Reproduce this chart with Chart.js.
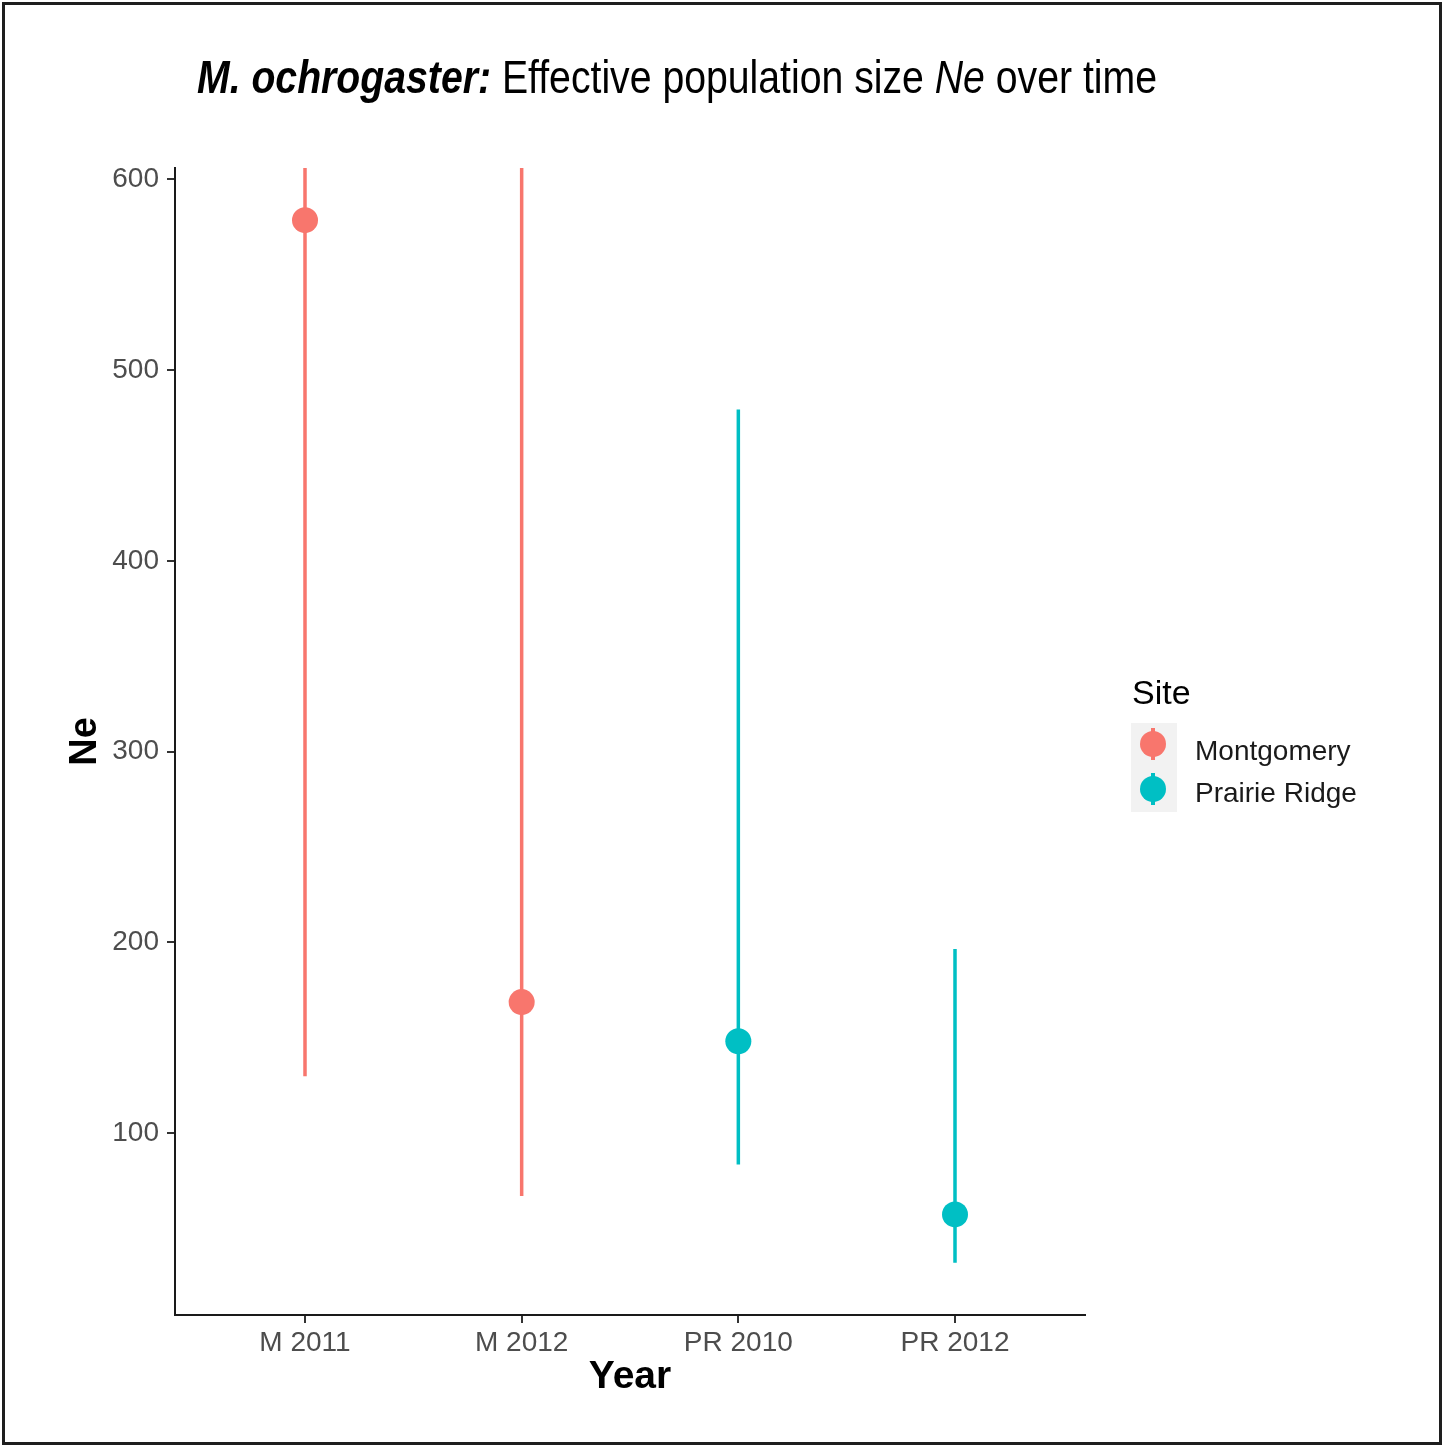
<!DOCTYPE html>
<html>
<head>
<meta charset="utf-8">
<script src="https://cdn.jsdelivr.net/npm/chart.js@4/dist/chart.umd.min.js"></script>
<style>
  html, body { margin: 0; padding: 0; background: #fff; overflow: hidden; }
  #page { position: relative; width: 1442px; height: 1445px; background: #fff;
          font-family: "Liberation Sans", Arial, sans-serif; }
  #chartBox { position: absolute; left: 0; top: 0; width: 1442px; height: 1445px; }
  #frame { position: absolute; left: 2px; top: 2px; width: 1440px; height: 1443px;
           box-sizing: border-box; border: 3px solid #1e1e1e; pointer-events: none; }
  #title { position: absolute; left: 197px; top: 54px; font-size: 46px; line-height: 46px;
           color: #000; white-space: nowrap; transform-origin: 0 0; }
  #title b { font-weight: bold; font-style: italic; }
  #title i { font-style: italic; }
  #legend { position: absolute; left: 0; top: 0; }
  .lg-title { position: absolute; left: 1132px; top: 675px; font-size: 34px; line-height: 34px; color: #000; white-space: nowrap; }
  .lg-keybg { position: absolute; left: 1131px; top: 723px; width: 46px; height: 89px; background: #f2f2f2; }
  .lg-line { position: absolute; width: 3.5px; }
  .lg-dot { position: absolute; width: 26px; height: 26px; border-radius: 50%; }
  .lg-label { position: absolute; left: 1195px; font-size: 28px; line-height: 28px; color: #1a1a1a; white-space: nowrap; }
</style>
</head>
<body>
<div id="page">
  <div id="chartBox"><canvas id="chart"></canvas></div>
  <div id="title"><b>M. ochrogaster:</b> Effective population size <i>Ne</i> over time</div>
  <div id="legend"></div>
  <div id="frame"></div>
</div>
<script>
// Ne estimates with confidence limits per sampling (site + year)
const categories = ['M 2011', 'M 2012', 'PR 2010', 'PR 2012'];
const siteOf     = ['Montgomery', 'Montgomery', 'Prairie Ridge', 'Prairie Ridge'];
const neEstimate = [578.6, 168.7, 148.2, 57.4];
const ciLower    = [129.8, 67.0, 83.6, 32.0];
const ciUpper    = [Infinity, Infinity, 479.3, 196.5];   // Infinity = unbounded upper limit
const yTicks     = [100, 200, 300, 400, 500, 600];

const siteNames  = ['Montgomery', 'Prairie Ridge'];
const siteColors = ['#F8766D', '#00BFC4'];

// y range: data extent plus 5% on each side
const finiteVals = neEstimate.concat(ciLower, ciUpper.filter(Number.isFinite));
const lo = Math.min(...finiteVals), hi = Math.max(...finiteVals);
const yMin = lo - 0.05 * (hi - lo), yMax = hi + 0.05 * (hi - lo);

// x: discrete positions 1..n with 0.6 units of space at each end
const xPos = categories.map((c, i) => i + 1);

const datasets = [];
siteNames.forEach((site, s) => {
  const pts = [];
  categories.forEach((c, i) => {
    if (siteOf[i] === site) pts.push({ x: xPos[i], y: neEstimate[i] });
  });
  datasets.push({
    label: site, data: pts, showLine: false,
    pointRadius: 13, pointHoverRadius: 13, pointBorderWidth: 0,
    backgroundColor: siteColors[s], borderColor: siteColors[s], order: 0
  });
});
siteNames.forEach((site, s) => {
  const segs = [];
  categories.forEach((c, i) => {
    if (siteOf[i] !== site) return;
    const up = Number.isFinite(ciUpper[i]) ? ciUpper[i] : yMax;
    segs.push({ x: xPos[i], y: ciLower[i] }, { x: xPos[i], y: up }, { x: xPos[i], y: null });
  });
  datasets.push({
    label: site + ' CI', data: segs, showLine: true, spanGaps: false,
    pointRadius: 0, pointHoverRadius: 0, borderWidth: 3.5, borderCapStyle: 'butt',
    borderColor: siteColors[s], backgroundColor: siteColors[s], order: 1
  });
});

const FONT = '"Liberation Sans", Arial, sans-serif';

new Chart(document.getElementById('chart'), {
  type: 'scatter',
  data: { datasets },
  options: {
    responsive: true, maintainAspectRatio: false, animation: false,
    layout: { padding: { left: 0, top: 168, right: 357, bottom: 0 } },
    plugins: { legend: { display: false }, tooltip: { enabled: false }, title: { display: false } },
    scales: {
      x: {
        type: 'linear', min: 0.4, max: categories.length + 0.6,
        afterBuildTicks: (sc) => { sc.ticks = xPos.map(v => ({ value: v })); },
        afterFit: (sc) => { sc.height = 130; },
        ticks: { callback: (v) => categories[Math.round(v) - 1] || '', color: '#4d4d4d',
                 font: { family: FONT, size: 28 }, padding: 3, maxRotation: 0, autoSkip: false },
        grid: { drawOnChartArea: false, drawTicks: true, tickLength: 8, color: '#333', lineWidth: 2 },
        border: { display: true, color: '#1a1a1a', width: 2 },
        title: { display: true, text: 'Year', color: '#000', font: { family: FONT, size: 39, weight: 'bold' },
                 padding: { top: 0, bottom: 44 } }
      },
      y: {
        type: 'linear', min: yMin, max: yMax,
        afterBuildTicks: (sc) => { sc.ticks = yTicks.map(v => ({ value: v })); },
        afterFit: (sc) => { sc.width = 175; },
        ticks: { color: '#4d4d4d', font: { family: FONT, size: 28 }, padding: 8 },
        grid: { drawOnChartArea: false, drawTicks: true, tickLength: 8, color: '#333', lineWidth: 2 },
        border: { display: true, color: '#1a1a1a', width: 2 },
        title: { display: true, text: 'Ne', color: '#000', font: { family: FONT, size: 38, weight: 'bold' },
                 padding: { top: 63, bottom: 0 } }
      }
    }
  }
});

// Title: condensed to its set width
const titleEl = document.getElementById('title');
const tw = titleEl.getBoundingClientRect().width;
titleEl.style.transform = 'scaleX(' + (960 / tw) + ')';

// Legend: key background, point-range glyphs and labels
const legend = document.getElementById('legend');
const lgHtml = ['<div class="lg-title">Site</div>', '<div class="lg-keybg"></div>'];
const keyCenters = [744, 789];
const labelTops = [737, 779];
siteNames.forEach((site, s) => {
  const cy = keyCenters[s];
  lgHtml.push('<div class="lg-line" style="left:' + (1153 - 1.75) + 'px;top:' + (cy - 16) + 'px;height:32px;background:' + siteColors[s] + '"></div>');
  lgHtml.push('<div class="lg-dot" style="left:' + (1153 - 13) + 'px;top:' + (cy - 13) + 'px;background:' + siteColors[s] + '"></div>');
  lgHtml.push('<div class="lg-label" style="top:' + labelTops[s] + 'px">' + site + '</div>');
});
legend.innerHTML = lgHtml.join('');
</script>
</body>
</html>
